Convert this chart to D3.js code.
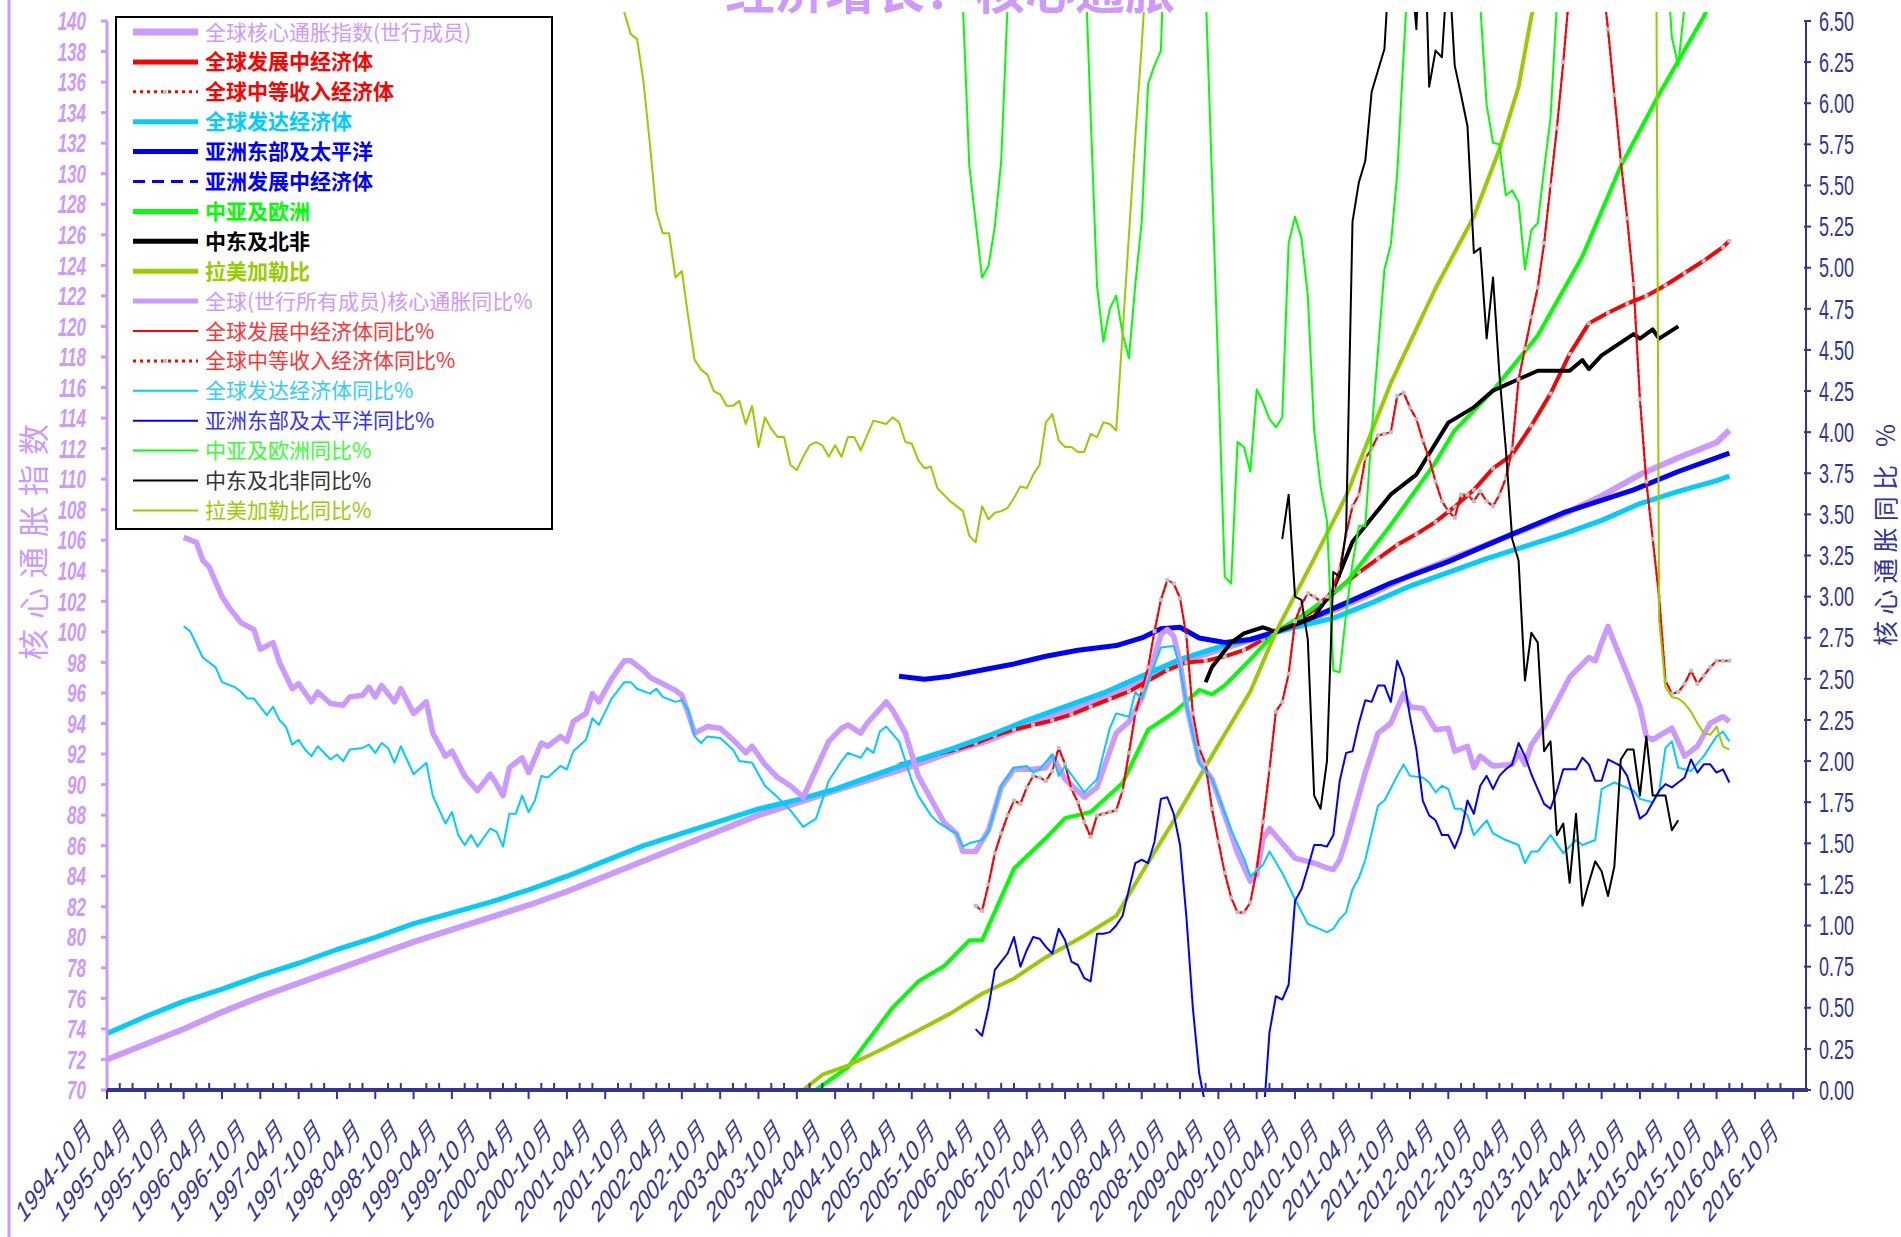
<!DOCTYPE html>
<html>
<head>
<meta charset="utf-8">
<script src="https://cdn.jsdelivr.net/npm/d3@7"></script>
<style>
body { margin: 0; background: #fff; }
svg { display: block; }
</style>
</head>
<body>
<div id="chart"></div>
<script>
// ---- data ----
var xLabels = ['1994-10月','1995-04月','1995-10月','1996-04月','1996-10月','1997-04月','1997-10月','1998-04月','1998-10月',
  '1999-04月','1999-10月','2000-04月','2000-10月','2001-04月','2001-10月','2002-04月','2002-10月','2003-04月','2003-10月',
  '2004-04月','2004-10月','2005-04月','2005-10月','2006-04月','2006-10月','2007-04月','2007-10月','2008-04月','2008-10月',
  '2009-04月','2009-10月','2010-04月','2010-10月','2011-04月','2011-10月','2012-04月','2012-10月','2013-04月','2013-10月',
  '2014-04月','2014-10月','2015-04月','2015-10月','2016-04月','2016-10月'];
var leftTicks = [70,72,74,76,78,80,82,84,86,88,90,92,94,96,98,100,102,104,106,108,110,112,114,116,118,120,122,124,126,128,130,132,134,136,138,140];
var rightTicks = [0,0.25,0.5,0.75,1,1.25,1.5,1.75,2,2.25,2.5,2.75,3,3.25,3.5,3.75,4,4.25,4.5,4.75,5,5.25,5.5,5.75,6,6.25,6.5];

var legendNames = ['全球核心通胀指数(世行成员)','全球发展中经济体','全球中等收入经济体','全球发达经济体','亚洲东部及太平洋','亚洲发展中经济体',
  '中亚及欧洲','中东及北非','拉美加勒比','全球(世行所有成员)核心通胀同比%','全球发展中经济体同比%','全球中等收入经济体同比%',
  '全球发达经济体同比%','亚洲东部及太平洋同比%','中亚及欧洲同比%','中东及北非同比%','拉美加勒比同比%'];

// index series (left axis)
var worldIdx = [['1994-10',72.0],['1995-04',73.0],['1995-10',74.0],['1996-04',75.1],['1996-10',76.1],['1997-04',77.0],['1997-10',77.9],
  ['1998-04',78.8],['1998-10',79.7],['1999-04',80.5],['1999-10',81.3],['2000-04',82.1],['2000-10',83.0],['2001-04',84.0],['2001-10',85.0],
  ['2002-04',86.0],['2002-10',87.0],['2003-04',88.0],['2003-10',88.8],['2004-04',89.6],['2004-10',90.4],['2005-04',91.2],['2005-10',92.1],
  ['2006-04',92.9],['2006-10',93.9],['2007-04',94.8],['2007-10',95.7],['2008-04',96.9],['2008-10',98.0],['2009-04',98.8],['2009-10',99.6],
  ['2010-04',100.5],['2010-10',101.4],['2011-04',102.5],['2011-10',103.7],['2012-04',104.7],['2012-10',105.7],['2013-04',106.7],
  ['2013-10',107.7],['2014-04',108.9],['2014-10',110.3],['2015-04',111.4],['2015-10',112.4],['2015-12',113.2]];
var devIdx = [['2005-02',91.3],['2005-05',91.6],['2005-08',92.0],['2005-11',92.3],['2006-02',92.7],['2006-05',93.2],['2006-08',93.6],
  ['2006-11',93.9],['2007-02',94.2],['2007-05',94.6],['2007-08',95.1],['2007-11',95.6],['2008-02',96.1],['2008-05',96.8],['2008-08',97.5],
  ['2008-11',98.0],['2009-02',98.1],['2009-05',98.4],['2009-08',98.8],['2009-11',99.5],['2010-02',100.2],['2010-05',100.9],['2010-08',101.7],
  ['2010-11',102.9],['2011-02',103.9],['2011-05',104.8],['2011-08',105.7],['2011-11',106.4],['2012-02',107.2],['2012-05',108.2],
  ['2012-08',109.3],['2012-11',110.7],['2013-02',111.6],['2013-05',113.5],['2013-08',115.6],['2013-11',118.2],['2014-02',120.2],
  ['2014-05',120.9],['2014-08',121.5],['2014-11',122.0],['2015-02',122.7],['2015-05',123.5],['2015-08',124.3],['2015-11',125.2],['2015-12',125.6]];
var midIdx = devIdx;
var advIdx = [['1994-10',73.7],['1995-04',74.8],['1995-10',75.8],['1996-04',76.6],['1996-10',77.5],['1997-04',78.3],['1997-10',79.2],
  ['1998-04',80.0],['1998-10',80.9],['1999-04',81.6],['1999-10',82.3],['2000-04',83.1],['2000-10',84.0],['2001-04',85.0],['2001-10',86.0],
  ['2002-04',86.8],['2002-10',87.6],['2003-04',88.4],['2003-10',89.0],['2004-04',89.7],['2004-10',90.6],['2005-04',91.5],['2005-10',92.3],
  ['2006-04',93.2],['2006-10',94.2],['2007-04',95.1],['2007-10',96.0],['2008-04',97.1],['2008-10',98.2],['2009-04',99.0],['2009-10',99.6],
  ['2010-04',100.3],['2010-10',100.9],['2011-04',101.9],['2011-10',103.0],['2012-04',103.9],['2012-10',104.8],['2013-04',105.6],
  ['2013-10',106.4],['2014-04',107.3],['2014-10',108.4],['2015-04',109.2],['2015-10',109.9],['2015-12',110.2]];
var eapIdx = [['2005-02',97.1],['2005-06',96.9],['2005-10',97.1],['2006-03',97.5],['2006-08',97.9],['2007-01',98.4],['2007-06',98.8],
  ['2007-12',99.1],['2008-04',99.6],['2008-07',100.2],['2008-10',100.3],['2009-01',99.6],['2009-05',99.3],['2009-09',99.5],['2010-01',100.0],
  ['2010-06',100.8],['2010-12',101.9],['2011-07',103.2],['2012-04',104.6],['2013-02',106.4],['2013-10',107.8],['2014-09',109.3],
  ['2015-04',110.5],['2015-12',111.7]];
var ecaIdx = [['2004-01',70.0],['2004-06',71.5],['2005-01',75.4],['2005-05',77.1],['2005-09',78.1],['2006-01',79.8],['2006-03',79.8],
  ['2006-08',84.5],['2007-01',86.5],['2007-04',87.8],['2007-08',88.2],['2008-01',90.1],['2008-05',93.6],['2008-09',94.7],['2009-01',96.2],
  ['2009-03',95.9],['2009-05',96.5],['2009-09',98.2],['2010-01',100.0],['2010-06',101.3],['2010-12',103.2],['2011-07',107.0],
  ['2012-02',111.1],['2012-05',113.2],['2012-11',115.8],['2013-06',119.4],['2014-01',124.6],['2014-07',130.5],['2015-01',135.2],
  ['2015-08',140.3],['2015-12',144.0]];
var menaIdx = [['2009-02',96.7],['2009-03',97.7],['2009-06',99.3],['2009-08',99.9],['2009-11',100.3],['2010-01',100.0],['2010-07',101.0],
  ['2010-10',102.8],['2011-01',105.9],['2011-07',109.0],['2011-11',110.3],['2012-04',113.7],['2012-08',114.7],['2012-11',115.8],
  ['2013-06',117.1],['2013-11',117.1],['2014-01',117.8],['2014-02',117.2],['2014-04',118.1],['2014-09',119.5],['2014-10',119.2],
  ['2014-12',119.8],['2015-01',119.2],['2015-04',120.0]];
var lacIdx = [['2003-11',70.0],['2004-02',71.0],['2004-06',71.6],['2004-11',72.6],['2005-05',73.9],['2005-10',75.0],['2006-03',76.3],
  ['2006-08',77.3],['2007-01',78.7],['2007-07',80.1],['2007-12',81.4],['2008-05',84.9],['2008-10',88.3],['2009-03',91.9],['2009-09',96.1],
  ['2010-01',100.0],['2010-07',104.8],['2010-12',108.9],['2011-07',116.3],['2012-02',122.5],['2012-08',127.2],['2012-12',131.6],
  ['2013-03',135.7],['2013-05',140.3],['2013-08',145.0]];

// year-on-year series (right axis, %)
var worldYoy = [['1995-10',3.36],['1995-12',3.33],['1996-01',3.22],['1996-02',3.18],['1996-04',3.00],['1996-05',2.94],['1996-07',2.84],
  ['1996-09',2.80],['1996-10',2.68],['1996-12',2.72],['1997-01',2.60],['1997-03',2.44],['1997-04',2.47],['1997-06',2.36],['1997-07',2.42],
  ['1997-09',2.35],['1997-11',2.34],['1997-12',2.39],['1998-02',2.40],['1998-03',2.45],['1998-04',2.39],['1998-05',2.46],['1998-07',2.36],
  ['1998-08',2.44],['1998-10',2.29],['1998-12',2.36],['1999-01',2.17],['1999-03',2.03],['1999-04',2.06],['1999-06',1.91],['1999-08',1.82],
  ['1999-10',1.92],['1999-11',1.86],['1999-12',1.79],['2000-01',1.96],['2000-03',2.02],['2000-04',1.93],['2000-06',2.11],['2000-07',2.09],
  ['2000-09',2.15],['2000-10',2.12],['2000-11',2.24],['2001-01',2.29],['2001-02',2.41],['2001-03',2.36],['2001-05',2.50],['2001-07',2.61],
  ['2001-08',2.61],['2001-10',2.55],['2001-11',2.51],['2002-01',2.47],['2002-03',2.43],['2002-04',2.40],['2002-05',2.29],['2002-06',2.17],
  ['2002-08',2.21],['2002-10',2.20],['2002-12',2.13],['2003-02',2.05],['2003-03',2.09],['2003-05',1.98],['2003-07',1.90],['2003-09',1.85],
  ['2003-11',1.78],['2004-01',1.95],['2004-03',2.12],['2004-05',2.20],['2004-06',2.22],['2004-08',2.17],['2004-09',2.23],['2004-12',2.36],
  ['2005-01',2.31],['2005-03',2.17],['2005-05',1.91],['2005-09',1.63],['2005-11',1.56],['2005-12',1.45],['2006-02',1.45],['2006-04',1.58],
  ['2006-06',1.84],['2006-08',1.95],['2006-11',1.95],['2007-01',1.96],['2007-02',2.03],['2007-04',1.89],['2007-07',1.78],['2007-09',1.84],
  ['2007-12',2.17],['2008-02',2.24],['2008-04',2.38],['2008-05',2.50],['2008-07',2.77],['2008-08',2.80],['2008-09',2.76],['2008-10',2.60],
  ['2008-11',2.34],['2009-01',2.00],['2009-03',1.89],['2009-05',1.67],['2009-07',1.44],['2009-09',1.27],['2009-10',1.31],['2009-11',1.53],
  ['2009-12',1.59],['2010-02',1.50],['2010-04',1.41],['2010-07',1.38],['2010-09',1.35],['2010-10',1.34],['2010-11',1.40],['2010-12',1.52],
  ['2011-03',1.93],['2011-05',2.17],['2011-07',2.23],['2011-09',2.41],['2011-10',2.33],['2011-12',2.32],['2012-02',2.19],['2012-04',2.20],
  ['2012-05',2.06],['2012-07',2.09],['2012-08',1.96],['2012-09',2.03],['2012-11',1.97],['2013-02',1.98],['2013-03',2.05],['2013-04',1.98],
  ['2013-05',2.10],['2013-07',2.21],['2013-11',2.51],['2014-01',2.59],['2014-02',2.63],['2014-03',2.61],['2014-04',2.72],['2014-05',2.82],
  ['2014-06',2.72],['2014-08',2.53],['2014-10',2.33],['2014-11',2.15],['2014-12',2.13],['2015-03',2.20],['2015-05',2.03],['2015-07',2.09],
  ['2015-09',2.23],['2015-11',2.27],['2015-12',2.24]];
var devYoy = [['2006-02',1.12],['2006-03',1.09],['2006-04',1.25],['2006-05',1.44],['2006-06',1.56],['2006-07',1.67],['2006-08',1.76],
  ['2006-09',1.74],['2006-10',1.84],['2006-11',1.91],['2006-12',1.90],['2007-01',1.88],['2007-02',1.94],['2007-03',2.08],['2007-04',1.98],
  ['2007-05',1.83],['2007-06',1.75],['2007-07',1.63],['2007-08',1.54],['2007-09',1.67],['2007-10',1.68],['2007-11',1.69],['2007-12',1.70],
  ['2008-01',1.82],['2008-02',2.05],['2008-03',2.29],['2008-04',2.43],['2008-05',2.57],['2008-06',2.79],['2008-07',2.98],['2008-08',3.10],
  ['2008-09',3.08],['2008-10',2.99],['2008-11',2.76],['2008-12',2.29],['2009-01',2.08],['2009-02',1.98],['2009-03',1.71],['2009-04',1.51],
  ['2009-05',1.32],['2009-06',1.17],['2009-07',1.08],['2009-08',1.08],['2009-09',1.14],['2009-10',1.34],['2009-11',1.63],['2009-12',1.95],
  ['2010-01',2.30],['2010-02',2.36],['2010-03',2.53],['2010-04',2.85],['2010-05',2.95],['2010-06',3.02],['2010-07',3.00],['2010-08',2.97],
  ['2010-09',3.00],['2010-10',3.05],['2010-11',3.17],['2010-12',3.38],['2011-01',3.55],['2011-02',3.62],['2011-03',3.84],['2011-04',3.90],
  ['2011-05',3.98],['2011-06',3.99],['2011-07',4.00],['2011-08',4.22],['2011-09',4.24],['2011-10',4.15],['2011-11',4.08],['2011-12',3.95],
  ['2012-01',3.84],['2012-02',3.70],['2012-03',3.58],['2012-04',3.52],['2012-05',3.48],['2012-06',3.62],['2012-07',3.62],['2012-08',3.58],
  ['2012-09',3.64],['2012-10',3.58],['2012-11',3.55],['2012-12',3.62],['2013-01',3.72],['2013-02',3.90],['2013-03',4.32],['2013-04',4.51],
  ['2013-05',4.70],['2013-06',4.88],['2013-07',5.15],['2013-08',5.50],['2013-09',5.85],['2013-10',6.25],['2013-11',6.70],['2013-12',7.20],
  ['2014-02',7.60],['2014-04',6.80],['2014-05',6.45],['2014-06',6.05],['2014-07',5.65],['2014-08',5.30],['2014-09',4.90],['2014-10',4.20],
  ['2014-11',3.70],['2014-12',3.35],['2015-01',3.00],['2015-02',2.49],['2015-03',2.41],['2015-04',2.42],['2015-05',2.47],['2015-06',2.55],
  ['2015-07',2.47],['2015-08',2.52],['2015-09',2.57],['2015-10',2.61],['2015-11',2.61],['2015-12',2.61]];
var midYoy = devYoy;
var advYoy = [['1995-10',2.82],['1995-11',2.79],['1996-01',2.63],['1996-03',2.57],['1996-04',2.48],['1996-06',2.45],['1996-07',2.42],
  ['1996-08',2.38],['1996-09',2.38],['1996-11',2.28],['1996-12',2.33],['1997-01',2.25],['1997-02',2.21],['1997-03',2.10],['1997-04',2.13],
  ['1997-05',2.07],['1997-06',2.03],['1997-07',2.09],['1997-09',2.01],['1997-10',2.04],['1997-11',2.00],['1997-12',2.07],['1998-02',2.08],
  ['1998-03',2.10],['1998-04',2.05],['1998-05',2.11],['1998-06',2.08],['1998-07',1.99],['1998-08',2.09],['1998-10',1.92],['1998-12',1.99],
  ['1999-01',1.79],['1999-03',1.62],['1999-04',1.69],['1999-05',1.55],['1999-06',1.49],['1999-07',1.55],['1999-08',1.48],['1999-10',1.59],
  ['1999-11',1.57],['1999-12',1.48],['2000-01',1.68],['2000-02',1.68],['2000-03',1.79],['2000-04',1.69],['2000-05',1.76],['2000-06',1.91],
  ['2000-07',1.90],['2000-09',1.97],['2000-10',1.95],['2000-11',2.06],['2001-01',2.13],['2001-02',2.26],['2001-03',2.22],['2001-05',2.38],
  ['2001-07',2.48],['2001-08',2.48],['2001-09',2.44],['2001-11',2.41],['2001-12',2.44],['2002-01',2.39],['2002-03',2.36],['2002-04',2.37],
  ['2002-05',2.31],['2002-06',2.15],['2002-07',2.11],['2002-08',2.15],['2002-10',2.14],['2002-12',2.07],['2003-01',2.00],['2003-03',1.99],
  ['2003-05',1.85],['2003-07',1.78],['2003-09',1.70],['2003-11',1.60],['2004-01',1.65],['2004-03',1.88],['2004-05',2.00],['2004-06',2.05],
  ['2004-08',2.02],['2004-09',2.08],['2004-10',2.05],['2004-11',2.18],['2004-12',2.21],['2005-02',2.12],['2005-04',1.88],['2005-05',1.79],
  ['2005-07',1.67],['2005-08',1.63],['2005-10',1.58],['2005-11',1.56],['2005-12',1.48],['2006-01',1.50],['2006-03',1.52],['2006-04',1.57],
  ['2006-06',1.85],['2006-08',1.96],['2006-10',1.97],['2006-11',1.93],['2006-12',1.95],['2007-02',2.04],['2007-03',1.91],['2007-04',1.97],
  ['2007-07',1.81],['2007-09',1.89],['2007-11',2.20],['2007-12',2.29],['2008-02',2.27],['2008-03',2.42],['2008-04',2.38],['2008-05',2.48],
  ['2008-07',2.69],['2008-09',2.70],['2008-10',2.57],['2008-11',2.34],['2009-01',1.99],['2009-03',1.89],['2009-06',1.58],['2009-08',1.41],
  ['2009-09',1.30],['2009-11',1.37],['2009-12',1.45],['2010-02',1.32],['2010-04',1.16],['2010-06',1.01],['2010-09',0.96],['2010-10',0.98],
  ['2010-11',1.04],['2010-12',1.08],['2011-01',1.22],['2011-02',1.29],['2011-03',1.40],['2011-05',1.73],['2011-06',1.76],['2011-08',1.91],
  ['2011-09',1.98],['2011-10',1.91],['2011-12',1.90],['2012-01',1.87],['2012-02',1.81],['2012-03',1.85],['2012-04',1.83],['2012-05',1.71],
  ['2012-06',1.71],['2012-07',1.67],['2012-08',1.55],['2012-10',1.64],['2012-11',1.56],['2013-01',1.52],['2013-03',1.49],['2013-04',1.38],
  ['2013-05',1.45],['2013-06',1.45],['2013-08',1.55],['2013-10',1.44],['2013-12',1.52],['2014-01',1.49],['2014-03',1.52],['2014-04',1.83],
  ['2014-06',1.87],['2014-09',1.82],['2014-10',1.77],['2014-12',1.75],['2015-01',1.81],['2015-02',2.08],['2015-03',2.12],['2015-04',1.96],
  ['2015-06',1.94],['2015-08',2.03],['2015-10',2.15],['2015-11',2.18],['2015-12',2.12]];
var eapYoy = [['2006-02',0.37],['2006-03',0.33],['2006-04',0.50],['2006-05',0.73],['2006-06',0.78],['2006-07',0.83],['2006-08',0.93],
  ['2006-09',0.75],['2006-10',0.85],['2006-11',0.93],['2006-12',0.92],['2007-01',0.87],['2007-02',0.83],['2007-03',0.98],['2007-04',0.91],
  ['2007-05',0.78],['2007-06',0.76],['2007-07',0.68],['2007-08',0.66],['2007-09',0.95],['2007-10',0.95],['2007-11',0.96],['2007-12',1.00],
  ['2008-01',1.06],['2008-02',1.22],['2008-03',1.38],['2008-04',1.40],['2008-05',1.38],['2008-06',1.51],['2008-07',1.77],['2008-08',1.78],
  ['2008-09',1.68],['2008-10',1.49],['2008-11',1.05],['2008-12',0.50],['2009-01',0.10],['2009-02',-0.10],['2009-04',-0.50],['2009-07',-0.70],
  ['2009-10',-0.40],['2009-11',-0.20],['2009-12',0.35],['2010-01',0.57],['2010-02',0.55],['2010-03',0.64],['2010-04',1.15],['2010-05',1.22],
  ['2010-06',1.35],['2010-07',1.49],['2010-08',1.49],['2010-09',1.48],['2010-10',1.55],['2010-11',1.88],['2010-12',2.05],['2011-01',2.06],
  ['2011-02',2.23],['2011-03',2.37],['2011-04',2.36],['2011-05',2.46],['2011-06',2.46],['2011-07',2.36],['2011-08',2.61],['2011-09',2.51],
  ['2011-10',2.27],['2011-11',2.07],['2011-12',1.76],['2012-01',1.67],['2012-02',1.64],['2012-03',1.55],['2012-04',1.55],['2012-05',1.47],
  ['2012-06',1.57],['2012-07',1.76],['2012-08',1.68],['2012-09',1.85],['2012-10',1.91],['2012-11',1.83],['2012-12',1.91],['2013-01',1.95],
  ['2013-02',1.98],['2013-03',2.11],['2013-04',2.03],['2013-05',1.92],['2013-06',1.83],['2013-07',1.74],['2013-08',1.71],['2013-09',1.82],
  ['2013-10',1.95],['2013-12',1.95],['2014-01',2.02],['2014-02',1.98],['2014-03',1.88],['2014-04',1.88],['2014-05',2.01],['2014-06',1.99],
  ['2014-07',1.97],['2014-08',1.91],['2014-09',1.78],['2014-10',1.65],['2014-11',1.68],['2014-12',1.75],['2015-01',1.82],['2015-02',1.86],
  ['2015-03',1.84],['2015-04',1.87],['2015-05',1.90],['2015-06',2.01],['2015-07',1.93],['2015-08',1.98],['2015-09',1.98],['2015-10',1.93],
  ['2015-11',1.95],['2015-12',1.87]];
var ecaYoy = [['2005-01',9.0],['2005-06',10.0],['2005-11',8.0],['2005-12',6.6],['2006-01',5.62],['2006-02',5.28],['2006-03',4.94],
  ['2006-04',5.01],['2006-05',5.25],['2006-06',5.65],['2006-07',6.6],['2006-08',8.0],['2007-01',9.0],['2007-06',8.0],['2007-07',7.0],
  ['2007-08',5.93],['2007-09',4.89],['2007-10',4.55],['2007-11',4.75],['2007-12',4.83],['2008-01',4.60],['2008-02',4.45],['2008-03',4.90],
  ['2008-04',5.28],['2008-05',6.12],['2008-06',6.23],['2008-07',6.32],['2008-08',7.5],['2008-12',9.0],['2009-02',6.7],['2009-03',5.55],
  ['2009-04',4.35],['2009-05',3.12],['2009-06',3.08],['2009-07',3.94],['2009-08',3.91],['2009-09',3.76],['2009-10',4.26],['2009-11',4.18],
  ['2009-12',4.08],['2010-01',4.03],['2010-02',4.09],['2010-03',5.15],['2010-04',5.31],['2010-05',5.18],['2010-06',4.83],['2010-07',4.01],
  ['2010-08',3.67],['2010-09',3.46],['2010-10',2.55],['2010-11',2.54],['2010-12',2.90],['2011-01',3.20],['2011-02',3.43],['2011-03',3.43],
  ['2011-04',4.00],['2011-05',4.50],['2011-06',4.99],['2011-07',5.14],['2011-08',5.57],['2011-09',6.30],['2011-10',7.0],['2012-03',8.5],
  ['2012-08',7.2],['2012-09',6.6],['2012-10',5.99],['2012-11',5.76],['2012-12',5.75],['2013-01',5.44],['2013-02',5.47],['2013-03',5.40],
  ['2013-04',4.99],['2013-05',5.23],['2013-06',5.27],['2013-07',5.60],['2013-08',5.91],['2013-09',6.6],['2013-10',7.5],['2014-06',9.0],
  ['2015-02',7.0],['2015-03',6.40],['2015-04',6.23],['2015-05',6.6],['2015-06',8.0],['2015-12',9.0]];
var menaYoy = [['2010-02',3.35],['2010-03',3.62],['2010-04',3.00],['2010-05',2.98],['2010-06',2.74],['2010-07',1.79],['2010-08',1.71],
  ['2010-09',2.00],['2010-10',3.15],['2010-11',3.12],['2010-12',3.40],['2011-01',5.28],['2011-02',5.52],['2011-03',5.65],['2011-04',6.07],
  ['2011-05',6.20],['2011-06',6.33],['2011-07',7.0],['2011-09',7.4],['2011-10',6.9],['2011-11',6.45],['2011-12',7.5],['2012-01',6.10],
  ['2012-02',6.32],['2012-03',6.28],['2012-04',6.9],['2012-05',6.23],['2012-06',6.05],['2012-07',5.86],['2012-08',5.09],['2012-09',5.12],
  ['2012-10',4.57],['2012-11',4.94],['2012-12',4.35],['2013-01',3.90],['2013-02',3.35],['2013-03',3.22],['2013-04',2.49],['2013-05',2.78],
  ['2013-06',2.72],['2013-07',2.06],['2013-08',2.12],['2013-09',1.55],['2013-10',1.62],['2013-11',1.26],['2013-12',1.68],['2014-01',1.12],
  ['2014-02',1.26],['2014-03',1.39],['2014-04',1.33],['2014-05',1.18],['2014-06',1.36],['2014-07',2.01],['2014-08',2.07],['2014-09',2.07],
  ['2014-10',1.79],['2014-11',2.15],['2014-12',1.79],['2015-01',1.79],['2015-02',1.79],['2015-03',1.58],['2015-04',1.64]];
var lacYoy = [['1995-10',20.0],['1997-10',12.0],['1999-10',9.0],['2001-06',7.2],['2001-07',6.55],['2001-08',6.42],['2001-09',6.39],
  ['2001-10',6.13],['2001-11',5.75],['2001-12',5.34],['2002-01',5.21],['2002-02',5.21],['2002-03',4.94],['2002-04',4.98],['2002-05',4.70],
  ['2002-06',4.44],['2002-07',4.38],['2002-08',4.35],['2002-09',4.25],['2002-10',4.23],['2002-11',4.16],['2002-12',4.16],['2003-01',4.19],
  ['2003-02',4.05],['2003-03',4.16],['2003-04',3.91],['2003-05',4.09],['2003-06',4.02],['2003-07',3.97],['2003-08',3.97],['2003-09',3.80],
  ['2003-10',3.77],['2003-11',3.85],['2003-12',3.92],['2004-01',3.94],['2004-02',3.92],['2004-03',3.85],['2004-04',3.92],['2004-05',3.85],
  ['2004-06',3.97],['2004-07',3.97],['2004-08',3.89],['2004-09',3.98],['2004-10',4.07],['2004-11',4.06],['2004-12',4.05],['2005-01',4.09],
  ['2005-02',4.06],['2005-03',3.94],['2005-04',3.93],['2005-05',3.83],['2005-06',3.78],['2005-07',3.79],['2005-08',3.66],['2005-09',3.62],
  ['2005-10',3.58],['2005-11',3.55],['2005-12',3.52],['2006-01',3.37],['2006-02',3.33],['2006-03',3.55],['2006-04',3.47],['2006-05',3.51],
  ['2006-06',3.52],['2006-07',3.54],['2006-08',3.60],['2006-09',3.67],['2006-10',3.66],['2006-11',3.74],['2006-12',3.80],['2007-01',4.06],
  ['2007-02',4.11],['2007-03',3.95],['2007-04',3.91],['2007-05',3.91],['2007-06',3.88],['2007-07',3.88],['2007-08',3.99],['2007-09',3.97],
  ['2007-10',4.06],['2007-11',4.05],['2007-12',4.01],['2008-01',4.60],['2008-02',5.20],['2008-03',5.80],['2008-04',6.35],['2008-05',7.0],
  ['2009-06',8.5],['2011-06',8.0],['2013-06',9.0],['2014-12',12.0],['2015-01',2.86],['2015-02',2.45],['2015-03',2.39],['2015-04',2.38],
  ['2015-05',2.35],['2015-06',2.30],['2015-07',2.23],['2015-08',2.17],['2015-09',2.16],['2015-10',2.21],['2015-11',2.09],['2015-12',2.07]];

// ---- layout ----
var W = 1901, H = 1237;
var plot = {left: 107, right: 1806, top: 21, bottom: 1090};
var lilac = '#CC99FF', navy = '#333399';
var cjk = '"Noto Sans CJK SC", "Noto Sans", sans-serif';
var latin = '"Liberation Sans", Arial, sans-serif';

function monthIndex(s) {
  var p = s.split('-');
  return (+p[0] - 1994) * 12 + (+p[1] - 10);
}

var x = d3.scaleLinear().domain([0, 266]).range([plot.left, plot.right]);
var yL = d3.scaleLinear().domain([70, 140]).range([plot.bottom, plot.top]);
var yR = d3.scaleLinear().domain([0, 6.5]).range([plot.bottom, plot.top]);

var svg = d3.select('#chart').append('svg')
  .attr('width', W)
  .attr('height', H)
  .style('font-family', latin);

svg.append('defs').append('clipPath').attr('id', 'plotclip')
  .append('rect')
  .attr('x', plot.left).attr('y', 12)
  .attr('width', plot.right - plot.left).attr('height', 1097 - 12);

// title, only its lower part shows (as in the original)
svg.append('text')
  .attr('x', 950).attr('y', 9)
  .attr('text-anchor', 'middle')
  .style('font-family', cjk)
  .style('font-weight', 'bold')
  .style('font-size', '50px')
  .attr('fill', lilac)
  .text('经济增长：核心通胀');

// lilac frame line at far left
svg.append('line')
  .attr('x1', 9).attr('x2', 9).attr('y1', 0).attr('y2', H)
  .attr('stroke', lilac).attr('stroke-width', 3);

// ---- series ----
var series = [
  {data: worldIdx, y: yL, color: lilac, width: 6},
  {data: devIdx, y: yL, color: '#FF0000', width: 4},
  {data: midIdx, y: yL, color: '#FF0000', width: 2.5, dash: '3,3', marker: true},
  {data: advIdx, y: yL, color: '#00CCFF', width: 5},
  {data: eapIdx, y: yL, color: '#0000FF', width: 5},
  {data: ecaIdx, y: yL, color: '#00FF00', width: 4},
  {data: menaIdx, y: yL, color: '#000000', width: 4},
  {data: lacIdx, y: yL, color: '#99CC00', width: 4},
  {data: worldYoy, y: yR, color: lilac, width: 5.5},
  {data: devYoy, y: yR, color: '#FF0000', width: 2},
  {data: midYoy, y: yR, color: '#FF0000', width: 2, dash: '3,3', marker: true},
  {data: advYoy, y: yR, color: '#00CCFF', width: 2},
  {data: eapYoy, y: yR, color: '#0000FF', width: 2},
  {data: ecaYoy, y: yR, color: '#00FF00', width: 2},
  {data: menaYoy, y: yR, color: '#000000', width: 2},
  {data: lacYoy, y: yR, color: '#99CC00', width: 2}
];

var gLines = svg.append('g').attr('clip-path', 'url(#plotclip)');

series.forEach(function(s) {
  var line = d3.line()
    .x(function(d) { return x(monthIndex(d[0])); })
    .y(function(d) { return s.y(d[1]); });
  gLines.append('path')
    .attr('d', line(s.data))
    .attr('fill', 'none')
    .attr('stroke', s.color)
    .attr('stroke-width', s.width)
    .attr('stroke-dasharray', s.dash || null)
    .attr('stroke-linejoin', 'round');
  if (s.marker) {
    gLines.append('g').selectAll('rect')
      .data(s.data)
      .enter()
      .append('rect')
      .attr('x', function(d) { return x(monthIndex(d[0])) - 2; })
      .attr('y', function(d) { return s.y(d[1]) - 2; })
      .attr('width', 4).attr('height', 4)
      .attr('fill', '#C0C0C0');
  }
});

// ---- axes ----
// left axis
svg.append('line')
  .attr('x1', plot.left).attr('x2', plot.left)
  .attr('y1', plot.top).attr('y2', plot.bottom)
  .attr('stroke', lilac).attr('stroke-width', 3);
var gl = svg.append('g');
leftTicks.forEach(function(v) {
  var yy = yL(v);
  gl.append('line')
    .attr('x1', plot.left - 6).attr('x2', plot.left)
    .attr('y1', yy).attr('y2', yy)
    .attr('stroke', lilac).attr('stroke-width', 3);
  gl.append('text')
    .attr('transform', 'translate(86,' + yy + ') scale(1,1.5)')
    .attr('dy', '0.36em')
    .attr('text-anchor', 'end')
    .style('font-size', '17px')
    .style('font-weight', 'bold')
    .style('font-style', 'italic')
    .attr('fill', lilac)
    .text(v);
});

// right axis
svg.append('line')
  .attr('x1', plot.right).attr('x2', plot.right)
  .attr('y1', plot.top).attr('y2', plot.bottom)
  .attr('stroke', navy).attr('stroke-width', 2);
var gr = svg.append('g');
rightTicks.forEach(function(v) {
  var yy = yR(v);
  gr.append('line')
    .attr('x1', plot.right - 2).attr('x2', plot.right + 5)
    .attr('y1', yy).attr('y2', yy)
    .attr('stroke', navy).attr('stroke-width', 2);
  gr.append('text')
    .attr('transform', 'translate(1819,' + yy + ') scale(1,1.5)')
    .attr('dy', '0.36em')
    .style('font-size', '18px')
    .attr('fill', navy)
    .text(d3.format('.2f')(v));
});

// bottom axis: long ticks every 6 months, short ones every 2
svg.append('line')
  .attr('x1', plot.left).attr('x2', plot.right + 2)
  .attr('y1', plot.bottom).attr('y2', plot.bottom)
  .attr('stroke', navy).attr('stroke-width', 4);
var gb = svg.append('g');
d3.range(0, 267, 2).forEach(function(m) {
  var major = m % 6 === 0;
  gb.append('line')
    .attr('x1', x(m)).attr('x2', x(m))
    .attr('y1', major ? plot.bottom : plot.bottom - 7)
    .attr('y2', major ? plot.bottom + 9 : plot.bottom)
    .attr('stroke', navy).attr('stroke-width', 2);
});
xLabels.forEach(function(t, i) {
  var px = x(i * 6) - 14;
  gb.append('text')
    .attr('transform', 'translate(' + px + ',1133) scale(1,1.3) rotate(-45)')
    .attr('text-anchor', 'end')
    .style('font-size', '21px')
    .style('font-style', 'italic')
    .attr('fill', navy)
    .text(t);
});

// axis titles
svg.append('text')
  .attr('transform', 'translate(45,542) rotate(-90)')
  .attr('text-anchor', 'middle')
  .attr('textLength', 236)
  .style('font-family', cjk)
  .style('font-size', '31px')
  .attr('fill', lilac)
  .text('核心通胀指数');
svg.append('text')
  .attr('transform', 'translate(1895,535) rotate(-90)')
  .attr('text-anchor', 'middle')
  .attr('textLength', 222)
  .style('font-family', cjk)
  .style('font-size', '25px')
  .attr('fill', navy)
  .text('核心通胀同比 %');

// ---- legend ----
var legendStyles = [
  {color: lilac, width: 7, text: lilac, bold: false},
  {color: '#FF0000', width: 5, text: '#FF0000', bold: true},
  {color: '#FF0000', width: 3, dash: '3,4', marker: true, text: '#FF0000', bold: true},
  {color: '#00CCFF', width: 5, text: '#00CCFF', bold: true},
  {color: '#0000FF', width: 5, text: '#0000FF', bold: true},
  {color: '#0000FF', width: 3, dash: '12,7', text: '#0000FF', bold: true},
  {color: '#00FF00', width: 5, text: '#00FF00', bold: true},
  {color: '#000000', width: 5, text: '#000000', bold: true},
  {color: '#99CC00', width: 5, text: '#99CC00', bold: true},
  {color: lilac, width: 5, text: lilac},
  {color: '#FF0000', width: 2, text: '#FF3333'},
  {color: '#FF0000', width: 3, dash: '3,4', marker: true, text: '#FF3333'},
  {color: '#00CCFF', width: 2, text: '#33CCFF'},
  {color: '#0000FF', width: 2, text: '#3333FF'},
  {color: '#00FF00', width: 2, text: '#33FF33'},
  {color: '#000000', width: 2, text: '#333333'},
  {color: '#99CC00', width: 2, text: '#99CC00'}
];

var leg = svg.append('g');
leg.append('rect')
  .attr('x', 116).attr('y', 17)
  .attr('width', 436).attr('height', 512)
  .attr('fill', '#fff')
  .attr('stroke', '#000')
  .attr('stroke-width', 2);

legendNames.forEach(function(name, i) {
  var st = legendStyles[i];
  var ly = 32 + i * 29.9;
  leg.append('line')
    .attr('x1', 133).attr('x2', 198)
    .attr('y1', ly).attr('y2', ly)
    .attr('stroke', st.color)
    .attr('stroke-width', st.width)
    .attr('stroke-dasharray', st.dash || null);
  if (st.marker) {
    leg.append('rect')
      .attr('x', 163).attr('y', ly - 2)
      .attr('width', 4).attr('height', 4)
      .attr('fill', '#C0C0C0');
  }
  leg.append('text')
    .attr('x', 205).attr('y', ly)
    .attr('dy', '0.36em')
    .style('font-family', cjk)
    .style('font-size', '21px')
    .style('font-weight', st.bold ? 'bold' : 'normal')
    .attr('fill', st.text)
    .text(name);
});
</script>
</body>
</html>
